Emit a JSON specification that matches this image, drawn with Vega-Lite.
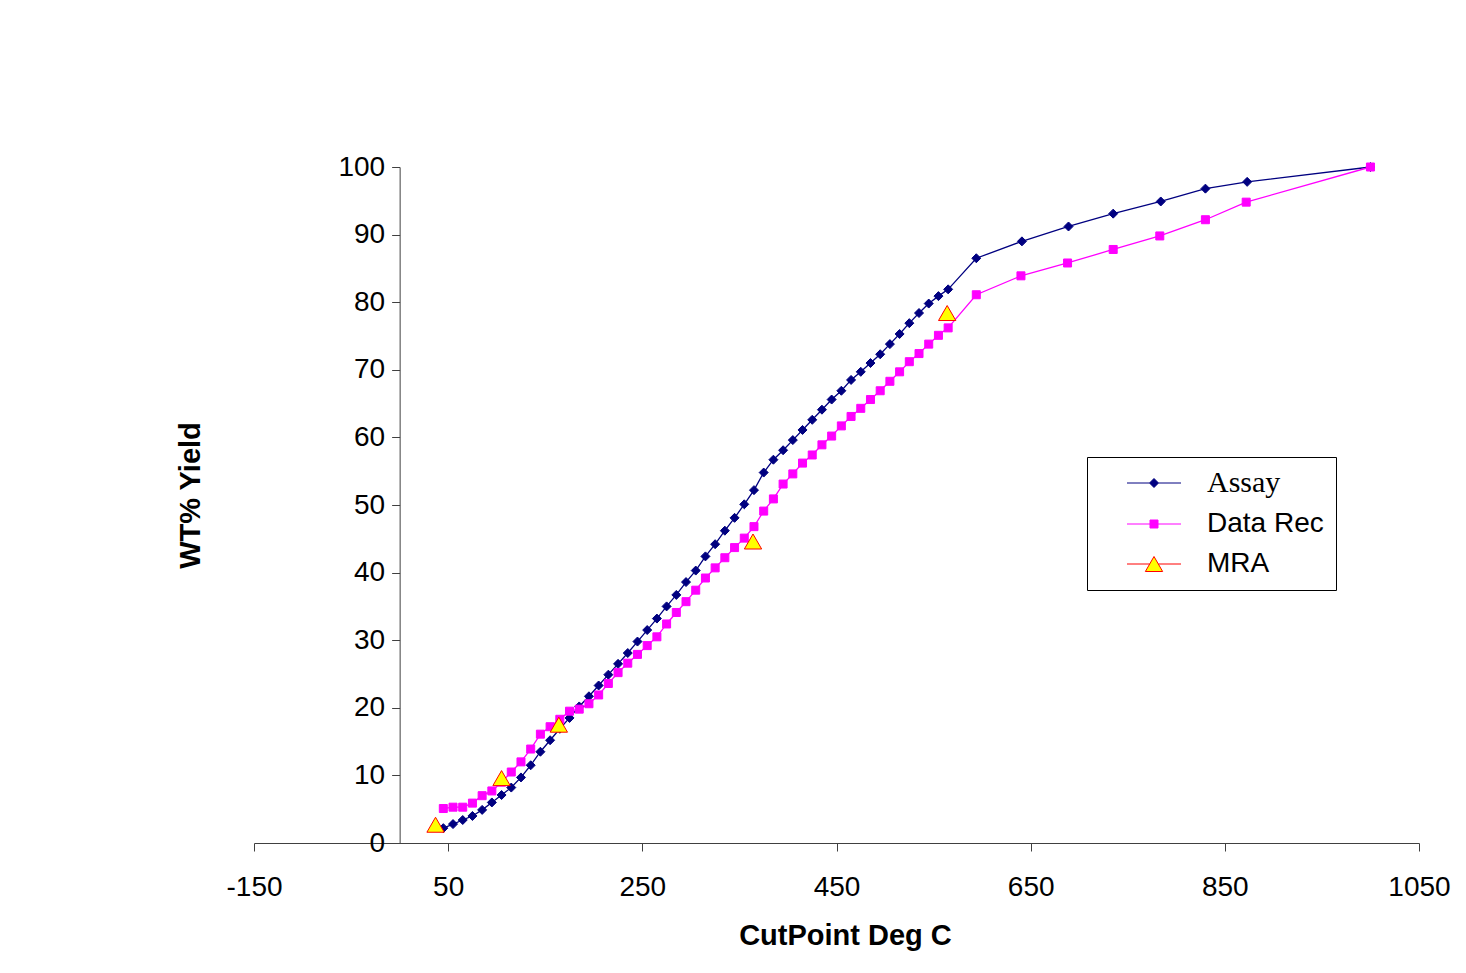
{
  "$schema": "https://vega.github.io/schema/vega-lite/v6.json",
  "autosize": {"type": "none"},
  "width": 1165,
  "height": 676,
  "padding": {"left": 254, "top": 167, "right": 47, "bottom": 130},
  "background": "white",
  "config": {"view": {"stroke": null}, "font": "Liberation Sans"},
  "datasets": {
    "rows": [
      {"series":"Assay","cut":45,"wt":2.2},{"series":"Assay","cut":55,"wt":2.8},{"series":"Assay","cut":65,"wt":3.4},{"series":"Assay","cut":75,"wt":4.0},
      {"series":"Assay","cut":85,"wt":4.9},{"series":"Assay","cut":95,"wt":6.0},{"series":"Assay","cut":105,"wt":7.1},{"series":"Assay","cut":115,"wt":8.2},
      {"series":"Assay","cut":125,"wt":9.7},{"series":"Assay","cut":135,"wt":11.5},{"series":"Assay","cut":145,"wt":13.5},{"series":"Assay","cut":155,"wt":15.2},
      {"series":"Assay","cut":165,"wt":16.9},{"series":"Assay","cut":175,"wt":18.5},{"series":"Assay","cut":185,"wt":20.2},{"series":"Assay","cut":195,"wt":21.7},
      {"series":"Assay","cut":205,"wt":23.3},{"series":"Assay","cut":215,"wt":24.9},{"series":"Assay","cut":225,"wt":26.5},{"series":"Assay","cut":235,"wt":28.1},
      {"series":"Assay","cut":245,"wt":29.8},{"series":"Assay","cut":255,"wt":31.5},{"series":"Assay","cut":265,"wt":33.2},{"series":"Assay","cut":275,"wt":35.0},
      {"series":"Assay","cut":285,"wt":36.7},{"series":"Assay","cut":295,"wt":38.6},{"series":"Assay","cut":305,"wt":40.3},{"series":"Assay","cut":315,"wt":42.4},
      {"series":"Assay","cut":325,"wt":44.2},{"series":"Assay","cut":335,"wt":46.2},{"series":"Assay","cut":345,"wt":48.1},{"series":"Assay","cut":355,"wt":50.1},
      {"series":"Assay","cut":365,"wt":52.2},{"series":"Assay","cut":375,"wt":54.8},{"series":"Assay","cut":385,"wt":56.7},{"series":"Assay","cut":395,"wt":58.1},
      {"series":"Assay","cut":405,"wt":59.6},{"series":"Assay","cut":415,"wt":61.1},{"series":"Assay","cut":425,"wt":62.6},{"series":"Assay","cut":435,"wt":64.1},
      {"series":"Assay","cut":445,"wt":65.6},{"series":"Assay","cut":455,"wt":66.9},{"series":"Assay","cut":465,"wt":68.5},{"series":"Assay","cut":475,"wt":69.7},
      {"series":"Assay","cut":485,"wt":71.0},{"series":"Assay","cut":495,"wt":72.3},{"series":"Assay","cut":505,"wt":73.8},{"series":"Assay","cut":515,"wt":75.3},
      {"series":"Assay","cut":525,"wt":76.9},{"series":"Assay","cut":535,"wt":78.4},{"series":"Assay","cut":545,"wt":79.8},{"series":"Assay","cut":555,"wt":80.9},
      {"series":"Assay","cut":565,"wt":81.9},{"series":"Assay","cut":594,"wt":86.5},{"series":"Assay","cut":641,"wt":89.0},{"series":"Assay","cut":689,"wt":91.2},
      {"series":"Assay","cut":735,"wt":93.1},{"series":"Assay","cut":784,"wt":94.9},{"series":"Assay","cut":830,"wt":96.8},{"series":"Assay","cut":873,"wt":97.8},
      {"series":"Assay","cut":1000,"wt":100},
      {"series":"Data Rec","cut":45,"wt":5.1},{"series":"Data Rec","cut":55,"wt":5.3},{"series":"Data Rec","cut":65,"wt":5.3},{"series":"Data Rec","cut":75,"wt":5.9},
      {"series":"Data Rec","cut":85,"wt":7.0},{"series":"Data Rec","cut":95,"wt":7.7},{"series":"Data Rec","cut":105,"wt":9.0},{"series":"Data Rec","cut":115,"wt":10.5},
      {"series":"Data Rec","cut":125,"wt":12.0},{"series":"Data Rec","cut":135,"wt":13.9},{"series":"Data Rec","cut":145,"wt":16.1},{"series":"Data Rec","cut":155,"wt":17.2},
      {"series":"Data Rec","cut":165,"wt":18.3},{"series":"Data Rec","cut":175,"wt":19.5},{"series":"Data Rec","cut":185,"wt":19.8},{"series":"Data Rec","cut":195,"wt":20.6},
      {"series":"Data Rec","cut":205,"wt":21.9},{"series":"Data Rec","cut":215,"wt":23.6},{"series":"Data Rec","cut":225,"wt":25.2},{"series":"Data Rec","cut":235,"wt":26.6},
      {"series":"Data Rec","cut":245,"wt":27.9},{"series":"Data Rec","cut":255,"wt":29.2},{"series":"Data Rec","cut":265,"wt":30.5},{"series":"Data Rec","cut":275,"wt":32.4},
      {"series":"Data Rec","cut":285,"wt":34.1},{"series":"Data Rec","cut":295,"wt":35.7},{"series":"Data Rec","cut":305,"wt":37.4},{"series":"Data Rec","cut":315,"wt":39.2},
      {"series":"Data Rec","cut":325,"wt":40.7},{"series":"Data Rec","cut":335,"wt":42.2},{"series":"Data Rec","cut":345,"wt":43.7},{"series":"Data Rec","cut":355,"wt":45.1},
      {"series":"Data Rec","cut":365,"wt":46.8},{"series":"Data Rec","cut":375,"wt":49.1},{"series":"Data Rec","cut":385,"wt":50.9},{"series":"Data Rec","cut":395,"wt":53.1},
      {"series":"Data Rec","cut":405,"wt":54.6},{"series":"Data Rec","cut":415,"wt":56.2},{"series":"Data Rec","cut":425,"wt":57.4},{"series":"Data Rec","cut":435,"wt":58.9},
      {"series":"Data Rec","cut":445,"wt":60.2},{"series":"Data Rec","cut":455,"wt":61.7},{"series":"Data Rec","cut":465,"wt":63.1},{"series":"Data Rec","cut":475,"wt":64.3},
      {"series":"Data Rec","cut":485,"wt":65.6},{"series":"Data Rec","cut":495,"wt":66.9},{"series":"Data Rec","cut":505,"wt":68.3},{"series":"Data Rec","cut":515,"wt":69.7},
      {"series":"Data Rec","cut":525,"wt":71.2},{"series":"Data Rec","cut":535,"wt":72.4},{"series":"Data Rec","cut":545,"wt":73.8},{"series":"Data Rec","cut":555,"wt":75.1},
      {"series":"Data Rec","cut":565,"wt":76.2},{"series":"Data Rec","cut":594,"wt":81.1},{"series":"Data Rec","cut":640,"wt":83.9},{"series":"Data Rec","cut":688,"wt":85.8},
      {"series":"Data Rec","cut":735,"wt":87.8},{"series":"Data Rec","cut":783,"wt":89.8},{"series":"Data Rec","cut":830,"wt":92.2},{"series":"Data Rec","cut":872,"wt":94.8},
      {"series":"Data Rec","cut":1000,"wt":100},
      {"series":"MRA","cut":37,"wt":2.7},{"series":"MRA","cut":105,"wt":9.6},{"series":"MRA","cut":164,"wt":17.5},{"series":"MRA","cut":364,"wt":44.6},{"series":"MRA","cut":564,"wt":78.4}
    ]
  },
  "data": {"name": "rows"},
  "encoding": {
    "x": {
      "field": "cut", "type": "quantitative",
      "scale": {"domain": [-150, 1050], "nice": false, "zero": false},
      "axis": {
        "title": "CutPoint Deg C", "values": [-150, 50, 250, 450, 650, 850, 1050],
        "labelExpr": "'' + datum.value", "grid": false, "tickSize": 8,
        "labelFont": "Liberation Sans", "labelFontSize": 28, "labelColor": "black",
        "labelPadding": 22, "labelFlush": false, "labelOverlap": false,
        "titleFont": "Liberation Sans", "titleFontSize": 29, "titleFontWeight": "bold", "titleColor": "black",
        "titlePadding": 20, "titleX": 591,
        "domainColor": "#404040", "tickColor": "#404040"
      }
    },
    "y": {
      "field": "wt", "type": "quantitative",
      "scale": {"domain": [0, 100], "nice": false},
      "axis": {
        "title": "WT% Yield", "values": [0, 10, 20, 30, 40, 50, 60, 70, 80, 90, 100],
        "offset": -145.625, "grid": false, "tickSize": 8,
        "labelFont": "Liberation Sans", "labelFontSize": 28, "labelColor": "black",
        "labelPadding": 7, "labelFlush": false, "labelOverlap": false,
        "titleFont": "Liberation Sans", "titleFontSize": 29, "titleFontWeight": "bold", "titleColor": "black",
        "titlePadding": 132, "titleY": 328,
        "domainColor": "#404040", "tickColor": "#404040"
      }
    }
  },
  "layer": [
    {
      "transform": [{"filter": "datum.series !== 'MRA'"}],
      "mark": {"type": "line", "strokeWidth": 1.3},
      "encoding": {
        "color": {"field": "series", "type": "nominal", "scale": {"domain": ["Assay", "Data Rec"], "range": ["#000080", "#FF00FF"]}, "legend": null}
      }
    },
    {
      "mark": {"type": "point", "filled": true, "opacity": 1, "strokeWidth": 1},
      "encoding": {
        "fill": {"field": "series", "type": "nominal", "scale": {"domain": ["Assay", "Data Rec", "MRA"], "range": ["#000080", "#FF00FF", "#FFFF00"]},
          "legend": {
            "orient": "none", "legendX": 833, "legendY": 290, "title": null,
            "padding": 12, "strokeColor": "black", "fillColor": "white",
            "labelFont": {"expr": "datum.value === 'Assay' ? 'Liberation Serif' : 'Liberation Sans'"},
            "labelFontSize": {"expr": "datum.value === 'Assay' ? 30 : 28"},
            "labelColor": "black",
            "rowPadding": 12, "symbolOffset": 41, "labelOffset": 39, "symbolStrokeWidth": 1, "symbolSize": 100,
            "symbolType": {"expr": "datum.value === 'Assay' ? 'M-5.4,0L-0.9,0M0.9,0L5.4,0M0,-0.9L0.9,0L0,0.9L-0.9,0Z' : datum.value === 'Data Rec' ? 'M-5.4,0L-0.8,0M0.8,0L5.4,0M-0.8,-0.8L0.8,-0.8L0.8,0.8L-0.8,0.8Z' : 'M-5.4,0L-0.87,0M0.87,0L5.4,0M0,-1.5L1.73,1.5L-1.73,1.5Z'"}
          }
        },
        "stroke": {"field": "series", "type": "nominal", "scale": {"domain": ["Assay", "Data Rec", "MRA"], "range": ["#000080", "#FF00FF", "#FF0000"]}},
        "shape": {"condition": [{"test": "datum.series === 'Assay'", "value": "diamond"}, {"test": "datum.series === 'Data Rec'", "value": "square"}], "value": "triangle-up"},
        "size": {"condition": [{"test": "datum.series === 'Assay'", "value": 81}, {"test": "datum.series === 'Data Rec'", "value": 64}], "value": 300}
      }
    }
  ]
}
